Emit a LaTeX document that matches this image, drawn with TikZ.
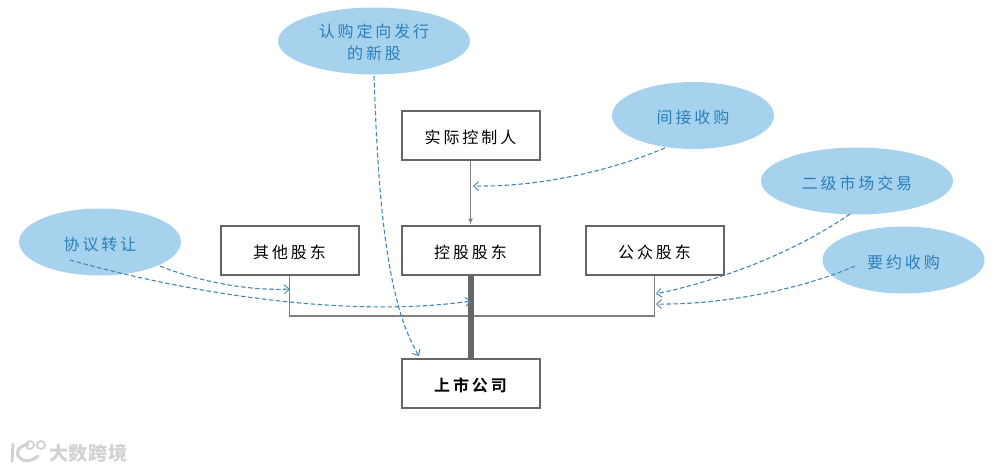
\documentclass[tikz,border=0pt]{standalone}
\usepackage{fontspec}
\usetikzlibrary{arrows.meta,shapes.geometric}
\newfontfamily\cjk[LetterSpace=18]{Noto Sans CJK SC}
\newfontfamily\cjkb[LetterSpace=18,BoldFont={Noto Sans CJK SC Bold}]{Noto Sans CJK SC}
\newfontfamily\cjkw[LetterSpace=4]{Noto Sans CJK SC}
\definecolor{boxline}{HTML}{666666}
\definecolor{ellfill}{HTML}{A6D2EE}
\definecolor{elltext}{HTML}{2A80BA}
\definecolor{dashc}{HTML}{4488AE}
\definecolor{treec}{HTML}{808080}
\definecolor{markc}{HTML}{D2D2D2}
\tikzset{
  x=1pt,y=-1pt,
  cbox/.style={draw=boxline,line width=2pt,fill=white,minimum width=138pt,minimum height=49pt,inner sep=0pt,text height=18pt,text depth=2pt,font=\cjk\fontsize{16}{18}\selectfont,text=black},
  bubble/.style={ellipse,fill=ellfill,inner sep=0pt,font=\cjk\fontsize{16}{22}\selectfont,text=elltext,align=center},
  wide/.style={bubble,minimum width=192pt,minimum height=67pt},
  narrow/.style={bubble,minimum width=162pt,minimum height=67pt},
  oneline/.style={text height=18pt,text depth=2pt},
  dashlink/.style={draw=dashc,line width=1.1pt,dash pattern=on 4.5pt off 2.5pt,-{Straight Barb[length=5pt,width=9pt,line width=0.9pt]}},
  tree/.style={draw=treec,line width=1.2pt},
  solidarrow/.style={draw=treec,line width=1.2pt,-{Latex[length=6pt,width=5pt]}},
  trunk/.style={draw=boxline,line width=6pt},
  markline/.style={draw=markc,line width=3pt,line cap=round},
  markring/.style={draw=markc,line width=1.8pt},
}
\begin{document}
\begin{tikzpicture}
\useasboundingbox (0,0) rectangle (1008,472);
% ellipses
\node[wide] (subscribe) at (374,41) {\rule{0pt}{16pt}认购定向发行\\的新股};
\node[narrow,oneline] (indirect) at (693,115.5) {间接收购};
\node[wide,oneline] (secondary) at (857,181) {二级市场交易};
\node[narrow,oneline] (tender) at (903.5,260) {要约收购};
\node[narrow,oneline] (agreement) at (100,242) {协议转让};
% boxes
\node[cbox] (controller) at (470.5,135) {实际控制人};
\node[cbox] (others) at (289.5,250) {其他股东};
\node[cbox] (holding) at (470.5,250) {控股股东};
\node[cbox] (public) at (654.5,250) {公众股东};
\node[cbox,font=\cjkb\bfseries\fontsize{16}{18}\selectfont] (listed) at (470.5,383) {上市公司};
% solid connectors
\draw[solidarrow] (controller) -- (holding);
\draw[tree] (others.south) |- (470.5,316) -| (public.south);
\draw[trunk] (holding) -- (listed);
% free end coordinates
\coordinate (s0) at (374,76);
\coordinate (s1) at (419,356);
\coordinate (i0) at (665,148);
\coordinate (i1) at (473,186);
\coordinate (m0) at (850,214);
\coordinate (m1) at (656,294);
\coordinate (t0) at (855,266);
\coordinate (t1) at (656,304);
\coordinate (a0) at (160,266);
\coordinate (a1) at (290,289);
\coordinate (b0) at (70,260);
\coordinate (b1) at (471,301);
% dashed connectors
\draw[dashlink] (s0) .. controls (378,190) and (385,300) .. (s1);
\draw[dashlink] (i0) .. controls (600,175) and (530,187) .. (i1);
\draw[dashlink] (m0) .. controls (790,255) and (720,280) .. (m1);
\draw[dashlink] (t0) .. controls (800,290) and (720,305) .. (t1);
\draw[dashlink] (a0) .. controls (200,282) and (250,291) .. (a1);
\draw[dashlink] (b0) .. controls (220,302) and (370,316) .. (b1);
% watermark
\node[inner sep=0pt,anchor=west,font=\cjkw\bfseries\fontsize{19}{20}\selectfont,text=markc] (mark) at (49,453) {大数跨境};
\draw[markline] (13,444) -- (12,461);
\draw[markline] (28,444) .. controls (17,447) and (15,453) .. (20,458) .. controls (25,463) and (32,461) .. (38,456);
\draw[markring] (30,445) circle (4pt);
\draw[markring] (41,445) circle (4pt);
\end{tikzpicture}
\end{document}
